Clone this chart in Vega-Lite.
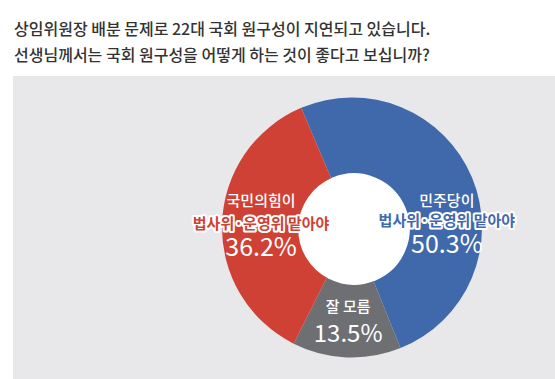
{
  "$schema": "https://vega.github.io/schema/vega-lite/v6.json",
  "autosize": "none",
  "width": 542,
  "height": 303,
  "padding": {"left": 13, "top": 76, "right": 0, "bottom": 0},
  "background": "#ffffff",
  "view": {"fill": "#e8e8ea", "stroke": null},
  "config": {
    "view": {"fill": "#e8e8ea", "stroke": null},
    "text": {"font": "Noto Sans CJK KR"}
  },
  "title": {
    "text": ["상임위원장 배분 문제로 22대 국회 원구성이 지연되고 있습니다.", "선생님께서는 국회 원구성을 어떻게 하는 것이 좋다고 보십니까?"],
    "anchor": "start",
    "frame": "group",
    "font": "Noto Sans CJK KR",
    "fontSize": 16,
    "fontWeight": 500,
    "color": "#333333",
    "lineHeight": 26,
    "offset": 12,
    "dx": 1
  },
  "data": {
    "values": [
      {"key": "dp", "ord": 1, "name": "민주당이", "phrase": "법사위·운영위 맡아야", "share": 0.503},
      {"key": "dk", "ord": 2, "name": "잘 모름", "phrase": "", "share": 0.135},
      {"key": "pp", "ord": 3, "name": "국민의힘이", "phrase": "법사위·운영위 맡아야", "share": 0.362}
    ]
  },
  "encoding": {
    "theta": {"field": "share", "type": "quantitative", "stack": true, "scale": {"range": [-0.4014, 5.8818]}},
    "order": {"field": "ord", "type": "quantitative"},
    "detail": {"field": "key", "type": "nominal"}
  },
  "layer": [
    {
      "mark": {"type": "arc", "outerRadius": 130, "innerRadius": 0, "x": 339, "stroke": null},
      "encoding": {
        "color": {"field": "key", "type": "nominal", "scale": {"domain": ["dp", "dk", "pp"], "range": ["#4069ac", "#6e6f73", "#cf4135"]}, "legend": null}
      }
    },
    {
      "mark": {"type": "arc", "outerRadius": 55, "innerRadius": 0, "x": 341, "y": 153, "fill": "#ffffff", "stroke": "#ffffff", "strokeWidth": 1.5}
    },
    {
      "mark": {"type": "text", "x": 339, "radius": 91, "dy": -24, "baseline": "middle", "align": "center", "fill": "#ffffff", "fontSize": 15, "fontWeight": 500},
      "encoding": {"text": {"condition": {"test": "datum.key == 'pp'", "field": "name"}, "value": ""}}
    },
    {
      "mark": {"type": "text", "x": 339, "radius": 91, "dy": -1, "baseline": "middle", "align": "center", "fill": "#ffffff", "stroke": "#ffffff", "strokeWidth": 4, "strokeJoin": "round", "fontSize": 15, "fontWeight": 700},
      "encoding": {"text": {"condition": {"test": "datum.key == 'pp'", "field": "phrase"}, "value": ""}}
    },
    {
      "mark": {"type": "text", "x": 339, "radius": 91, "dy": -1, "baseline": "middle", "align": "center", "fill": "#cf4135", "fontSize": 15, "fontWeight": 700},
      "encoding": {"text": {"condition": {"test": "datum.key == 'pp'", "field": "phrase"}, "value": ""}}
    },
    {
      "mark": {"type": "text", "x": 339, "radius": 91, "dy": 23, "baseline": "middle", "align": "center", "fill": "#ffffff", "fontSize": 25, "fontWeight": 400},
      "encoding": {"text": {"condition": {"test": "datum.key == 'pp'", "field": "share", "type": "quantitative", "format": ".1%"}, "value": ""}}
    },
    {
      "mark": {"type": "text", "x": 339, "radius": 93, "dy": -13, "baseline": "middle", "align": "center", "fill": "#ffffff", "fontSize": 15, "fontWeight": 500},
      "encoding": {"text": {"condition": {"test": "datum.key == 'dk'", "field": "name"}, "value": ""}}
    },
    {
      "mark": {"type": "text", "x": 339, "radius": 93, "dy": 15, "baseline": "middle", "align": "center", "fill": "#ffffff", "fontSize": 24, "fontWeight": 400},
      "encoding": {"text": {"condition": {"test": "datum.key == 'dk'", "field": "share", "type": "quantitative", "format": ".1%"}, "value": ""}}
    },
    {
      "mark": {"type": "text", "x": 339, "radius": 95, "dy": -21, "baseline": "middle", "align": "center", "fill": "#ffffff", "fontSize": 15, "fontWeight": 500},
      "encoding": {
        "theta": {"field": "share", "type": "quantitative", "stack": true, "bandPosition": 0.607},
        "text": {"condition": {"test": "datum.key == 'dp'", "field": "name"}, "value": ""}
      }
    },
    {
      "mark": {"type": "text", "x": 339, "radius": 95, "dy": -1, "baseline": "middle", "align": "center", "fill": "#ffffff", "stroke": "#ffffff", "strokeWidth": 4, "strokeJoin": "round", "fontSize": 15, "fontWeight": 700},
      "encoding": {
        "theta": {"field": "share", "type": "quantitative", "stack": true, "bandPosition": 0.607},
        "text": {"condition": {"test": "datum.key == 'dp'", "field": "phrase"}, "value": ""}
      }
    },
    {
      "mark": {"type": "text", "x": 339, "radius": 95, "dy": -1, "baseline": "middle", "align": "center", "fill": "#4069ac", "fontSize": 15, "fontWeight": 700},
      "encoding": {
        "theta": {"field": "share", "type": "quantitative", "stack": true, "bandPosition": 0.607},
        "text": {"condition": {"test": "datum.key == 'dp'", "field": "phrase"}, "value": ""}
      }
    },
    {
      "mark": {"type": "text", "x": 339, "radius": 95, "dy": 23, "baseline": "middle", "align": "center", "fill": "#ffffff", "fontSize": 25, "fontWeight": 400},
      "encoding": {
        "theta": {"field": "share", "type": "quantitative", "stack": true, "bandPosition": 0.607},
        "text": {"condition": {"test": "datum.key == 'dp'", "field": "share", "type": "quantitative", "format": ".1%"}, "value": ""}
      }
    }
  ]
}
